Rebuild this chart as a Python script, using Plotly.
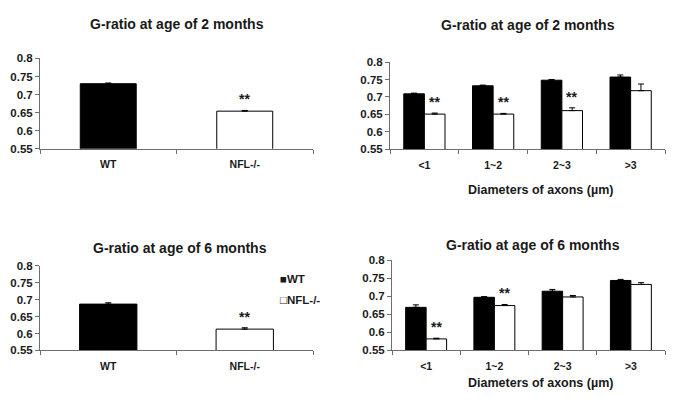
import plotly.graph_objects as go

W, H = 685, 413

# data
groups = ["WT", "NFL-/-"]
diam_cats = ["<1", "1~2", "2~3", ">3"]

m2_overall = [0.730, 0.654]
m2_overall_err = [0.002, 0.002]
m6_overall = [0.687, 0.613]
m6_overall_err = [0.004, 0.004]

m2_wt = [0.709, 0.732, 0.748, 0.757]
m2_wt_err = [0.002, 0.002, 0.002, 0.006]
m2_nfl = [0.651, 0.651, 0.661, 0.718]
m2_nfl_err = [0.003, 0.002, 0.008, 0.019]
m2_sig = [True, True, True, False]

m6_wt = [0.669, 0.697, 0.714, 0.744]
m6_wt_err = [0.007, 0.002, 0.005, 0.003]
m6_nfl = [0.581, 0.674, 0.698, 0.733]
m6_nfl_err = [0.002, 0.003, 0.004, 0.005]
m6_sig = [True, True, False, False]

title_2m = "G-ratio at age of 2 months"
title_6m = "G-ratio at age of 6 months"
xtitle = "Diameters of axons (µm)"

FONT = "Liberation Sans, Arial, sans-serif"
TXT = "#1a1a1a"
AXC = "#6e6e6e"


def px_dom(a, b, total):
    return [a / total, b / total]


def ydom(top, bottom):
    # pixel rows (from top) -> paper domain
    return [(H - bottom) / H, (H - top) / H]


fig = go.Figure()

err_style = dict(type="data", symmetric=False, color="black", thickness=1, width=3)

# panel 1: overall, 2 months
fig.add_trace(go.Bar(
    x=groups, y=m2_overall, xaxis="x", yaxis="y",
    marker=dict(color=["black", "white"], line=dict(color="black", width=1)),
    error_y=dict(array=m2_overall_err, arrayminus=[0, 0], **err_style),
    showlegend=False, width=0.41,
))
# panel 3: overall, 6 months
fig.add_trace(go.Bar(
    x=groups, y=m6_overall, xaxis="x3", yaxis="y3",
    marker=dict(color=["black", "white"], line=dict(color="black", width=1)),
    error_y=dict(array=m6_overall_err, arrayminus=[0, 0], **err_style),
    showlegend=False, width=0.42,
))

# panel 2 and 4: by axon diameter
for xa, ya, wt, wte, nfl, nfle in [("x2", "y2", m2_wt, m2_wt_err, m2_nfl, m2_nfl_err),
                                   ("x4", "y4", m6_wt, m6_wt_err, m6_nfl, m6_nfl_err)]:
    fig.add_trace(go.Bar(
        x=diam_cats, y=wt, xaxis=xa, yaxis=ya, offsetgroup="wt",
        marker=dict(color="black", line=dict(color="black", width=1)),
        error_y=dict(array=wte, arrayminus=[0] * len(wte), **err_style),
        showlegend=False,
    ))
    fig.add_trace(go.Bar(
        x=diam_cats, y=nfl, xaxis=xa, yaxis=ya, offsetgroup="nfl",
        marker=dict(color="white", line=dict(color="black", width=1)),
        error_y=dict(array=nfle, arrayminus=[0] * len(nfle), **err_style),
        showlegend=False,
    ))

# significance stars
ann = []
star_font = dict(family=FONT, size=14, color=TXT)
ann.append(dict(x=groups[1], y=m2_overall[1] + m2_overall_err[1], xref="x", yref="y",
                text="<b>**</b>", showarrow=False, yanchor="bottom", yshift=1, font=star_font))
ann.append(dict(x=groups[1], y=m6_overall[1] + m6_overall_err[1], xref="x3", yref="y3",
                text="<b>**</b>", showarrow=False, yanchor="bottom", yshift=1, font=star_font))
for xa, ya, nfl, nfle, sig in [("x2", "y2", m2_nfl, m2_nfl_err, m2_sig),
                               ("x4", "y4", m6_nfl, m6_nfl_err, m6_sig)]:
    for c, v, e, s in zip(diam_cats, nfl, nfle, sig):
        if s:
            ann.append(dict(x=c, y=v + e, xref=xa, yref=ya, text="<b>**</b>", showarrow=False,
                            yanchor="bottom", yshift=1, xshift=10, font=star_font))

# panel titles and x titles
title_font = dict(family=FONT, size=14, color=TXT)
for txt, cx, cy in [(title_2m, 177, 19), (title_2m, 528, 20), (title_6m, 180, 249), (title_6m, 533, 246)]:
    ann.append(dict(x=cx / W, y=1 - cy / H, xref="paper", yref="paper", text="<b>%s</b>" % txt,
                    showarrow=False, xanchor="center", yanchor="middle", font=title_font))
for cx, cy in [(540, 190), (540, 388)]:
    ann.append(dict(x=cx / W, y=1 - cy / H, xref="paper", yref="paper", text="<b>%s</b>" % xtitle,
                    showarrow=False, xanchor="center", yanchor="middle",
                    font=dict(family=FONT, size=12.5, color=TXT)))

# legend inside the 6-month overall panel
legend_font = dict(family=FONT, size=11.5, color=TXT)
for txt, cy in [("\u25a0<b>WT</b>", 281), ("\u25a1<b>NFL-/-</b>", 303)]:
    ann.append(dict(x=278 / W, y=1 - cy / H, xref="paper", yref="paper", text=txt,
                    showarrow=False, xanchor="left", yanchor="middle", font=legend_font))

yax = dict(range=[0.55, 0.8], tick0=0.55, dtick=0.05, ticks="outside", ticklen=4, tickcolor=AXC,
           showline=True, linecolor=AXC, linewidth=1, showgrid=False, zeroline=False,
           tickfont=dict(family=FONT, size=11.5, color=TXT, weight="bold"))
xax = dict(type="category", ticks="outside", tickson="boundaries", ticklen=4, tickcolor=AXC,
           showline=True, linecolor=AXC, linewidth=1, showgrid=False, ticklabelstandoff=6,
           tickfont=dict(family=FONT, size=10.5, color=TXT, weight="bold"))

fig.update_layout(
    width=W, height=H,
    margin=dict(l=0, r=0, t=0, b=0),
    paper_bgcolor="white", plot_bgcolor="white",
    barmode="group", bargap=0.4, bargroupgap=0,
    showlegend=False,
    font=dict(family=FONT, color=TXT),
    xaxis=dict(domain=px_dom(40, 313, W), anchor="y", **xax),
    yaxis=dict(domain=ydom(54, 147), anchor="x", **yax),
    xaxis2=dict(domain=px_dom(390, 665, W), anchor="y2", **xax),
    yaxis2=dict(domain=ydom(57.7, 147.7), anchor="x2", **yax),
    xaxis3=dict(domain=px_dom(40, 313, W), anchor="y3", **xax),
    yaxis3=dict(domain=ydom(267.7, 354.7), anchor="x3", **yax),
    xaxis4=dict(domain=px_dom(392, 665, W), anchor="y4", **xax),
    yaxis4=dict(domain=ydom(262, 354.3), anchor="x4", **yax),
    annotations=ann,
)

fig.write_html("out.html", config={"displayModeBar": False},
               post_script="document.body.style.margin='0';")
